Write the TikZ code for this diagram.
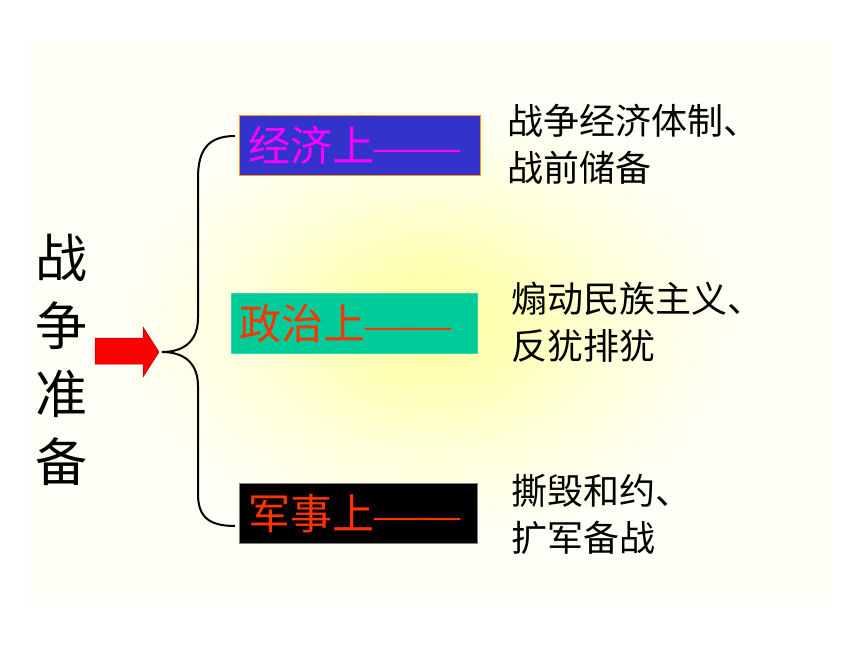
\documentclass[tikz,border=0pt]{standalone}
\usepackage{fontspec}
\setmainfont{Noto Sans CJK SC}
\newfontfamily\cjk{Noto Sans CJK SC}
\newfontfamily\dashfont{Liberation Serif}
\newcommand\cattxt{\cjk\fontsize{42}{46}\selectfont}
\newcommand\dashes{{\dashfont\fontsize{43}{46}\selectfont ——}}
\definecolor{cream}{HTML}{FFFFF8}
\definecolor{glowc}{HTML}{FFFF9E}
\definecolor{boxblue}{HTML}{3333CC}
\definecolor{boxgreen}{HTML}{00CC99}
\definecolor{txtred}{HTML}{FF3300}
\definecolor{txtmag}{HTML}{FF00FF}
\definecolor{arrred}{HTML}{FF0000}
\pgfdeclareradialshading{glow}{\pgfpoint{0bp}{0bp}}{color(0bp)=(glowc); color(5bp)=(glowc!75!cream); color(12bp)=(glowc!30!cream); color(20bp)=(cream); color(50bp)=(cream)}
\tikzset{
  catbox/.style={draw, line width=0.8pt, minimum width=#1, minimum height=60pt, inner sep=0pt, anchor=north west, text width=#1, align=left},
  desc/.style={font=\cjk\fontsize{36}{47}\selectfont, anchor=north west, align=left, inner sep=0pt},
}
\begin{document}
\begin{tikzpicture}[x=1pt,y=-1pt]
\useasboundingbox (0,0) rectangle (860,645);
\fill[white] (0,0) rectangle (860,645);
\shade[shading=glow] (30,40) rectangle (830,605);
% left vertical title
\node[font=\cjk\fontsize{52}{68}\selectfont, align=center, inner sep=0pt] (title) at (61,360) {战\\争\\准\\备};
% arrow
\fill[arrred, draw=red!60!black, line width=0.5pt] (95,338) -- (143,338) -- (143,327) -- (159,352) -- (143,377) -- (143,364) -- (95,364) -- cycle;
\coordinate (tip) at (162,352);
% boxes
\node[catbox=241pt, fill=boxblue, draw=orange!80!yellow] (eco) at (239,115) {\hspace{9pt}\cattxt\textcolor{txtmag}{经济上\dashes}};
\node[catbox=246pt, fill=boxgreen, draw=boxgreen!80!white] (pol) at (231,293) {\hspace{8pt}\cattxt\textcolor{txtred}{政治上\dashes}};
\node[catbox=238pt, fill=black, draw=gray] (mil) at (239,483) {\hspace{9pt}\cattxt\textcolor{txtred}{军事上\dashes}};
% brace
\coordinate (bt) at (235,136);
\coordinate (bb) at (235,526);
\draw[line width=2pt] (bt) .. controls (208,136) and (198,150) .. (198,178) -- (198,318)
  .. controls (198,340) and (185,352) .. (tip)
  .. controls (185,352) and (198,364) .. (198,386) -- (198,494)
  .. controls (198,516) and (208,526) .. (bb);
% descriptions
\node[desc] (d1) at (507,104) {战争经济体制、\\战前储备};
\node[desc] (d2) at (511,282) {煽动民族主义、\\反犹排犹};
\node[desc] (d3) at (511,474) {撕毁和约、\\扩军备战};
\end{tikzpicture}
\end{document}
